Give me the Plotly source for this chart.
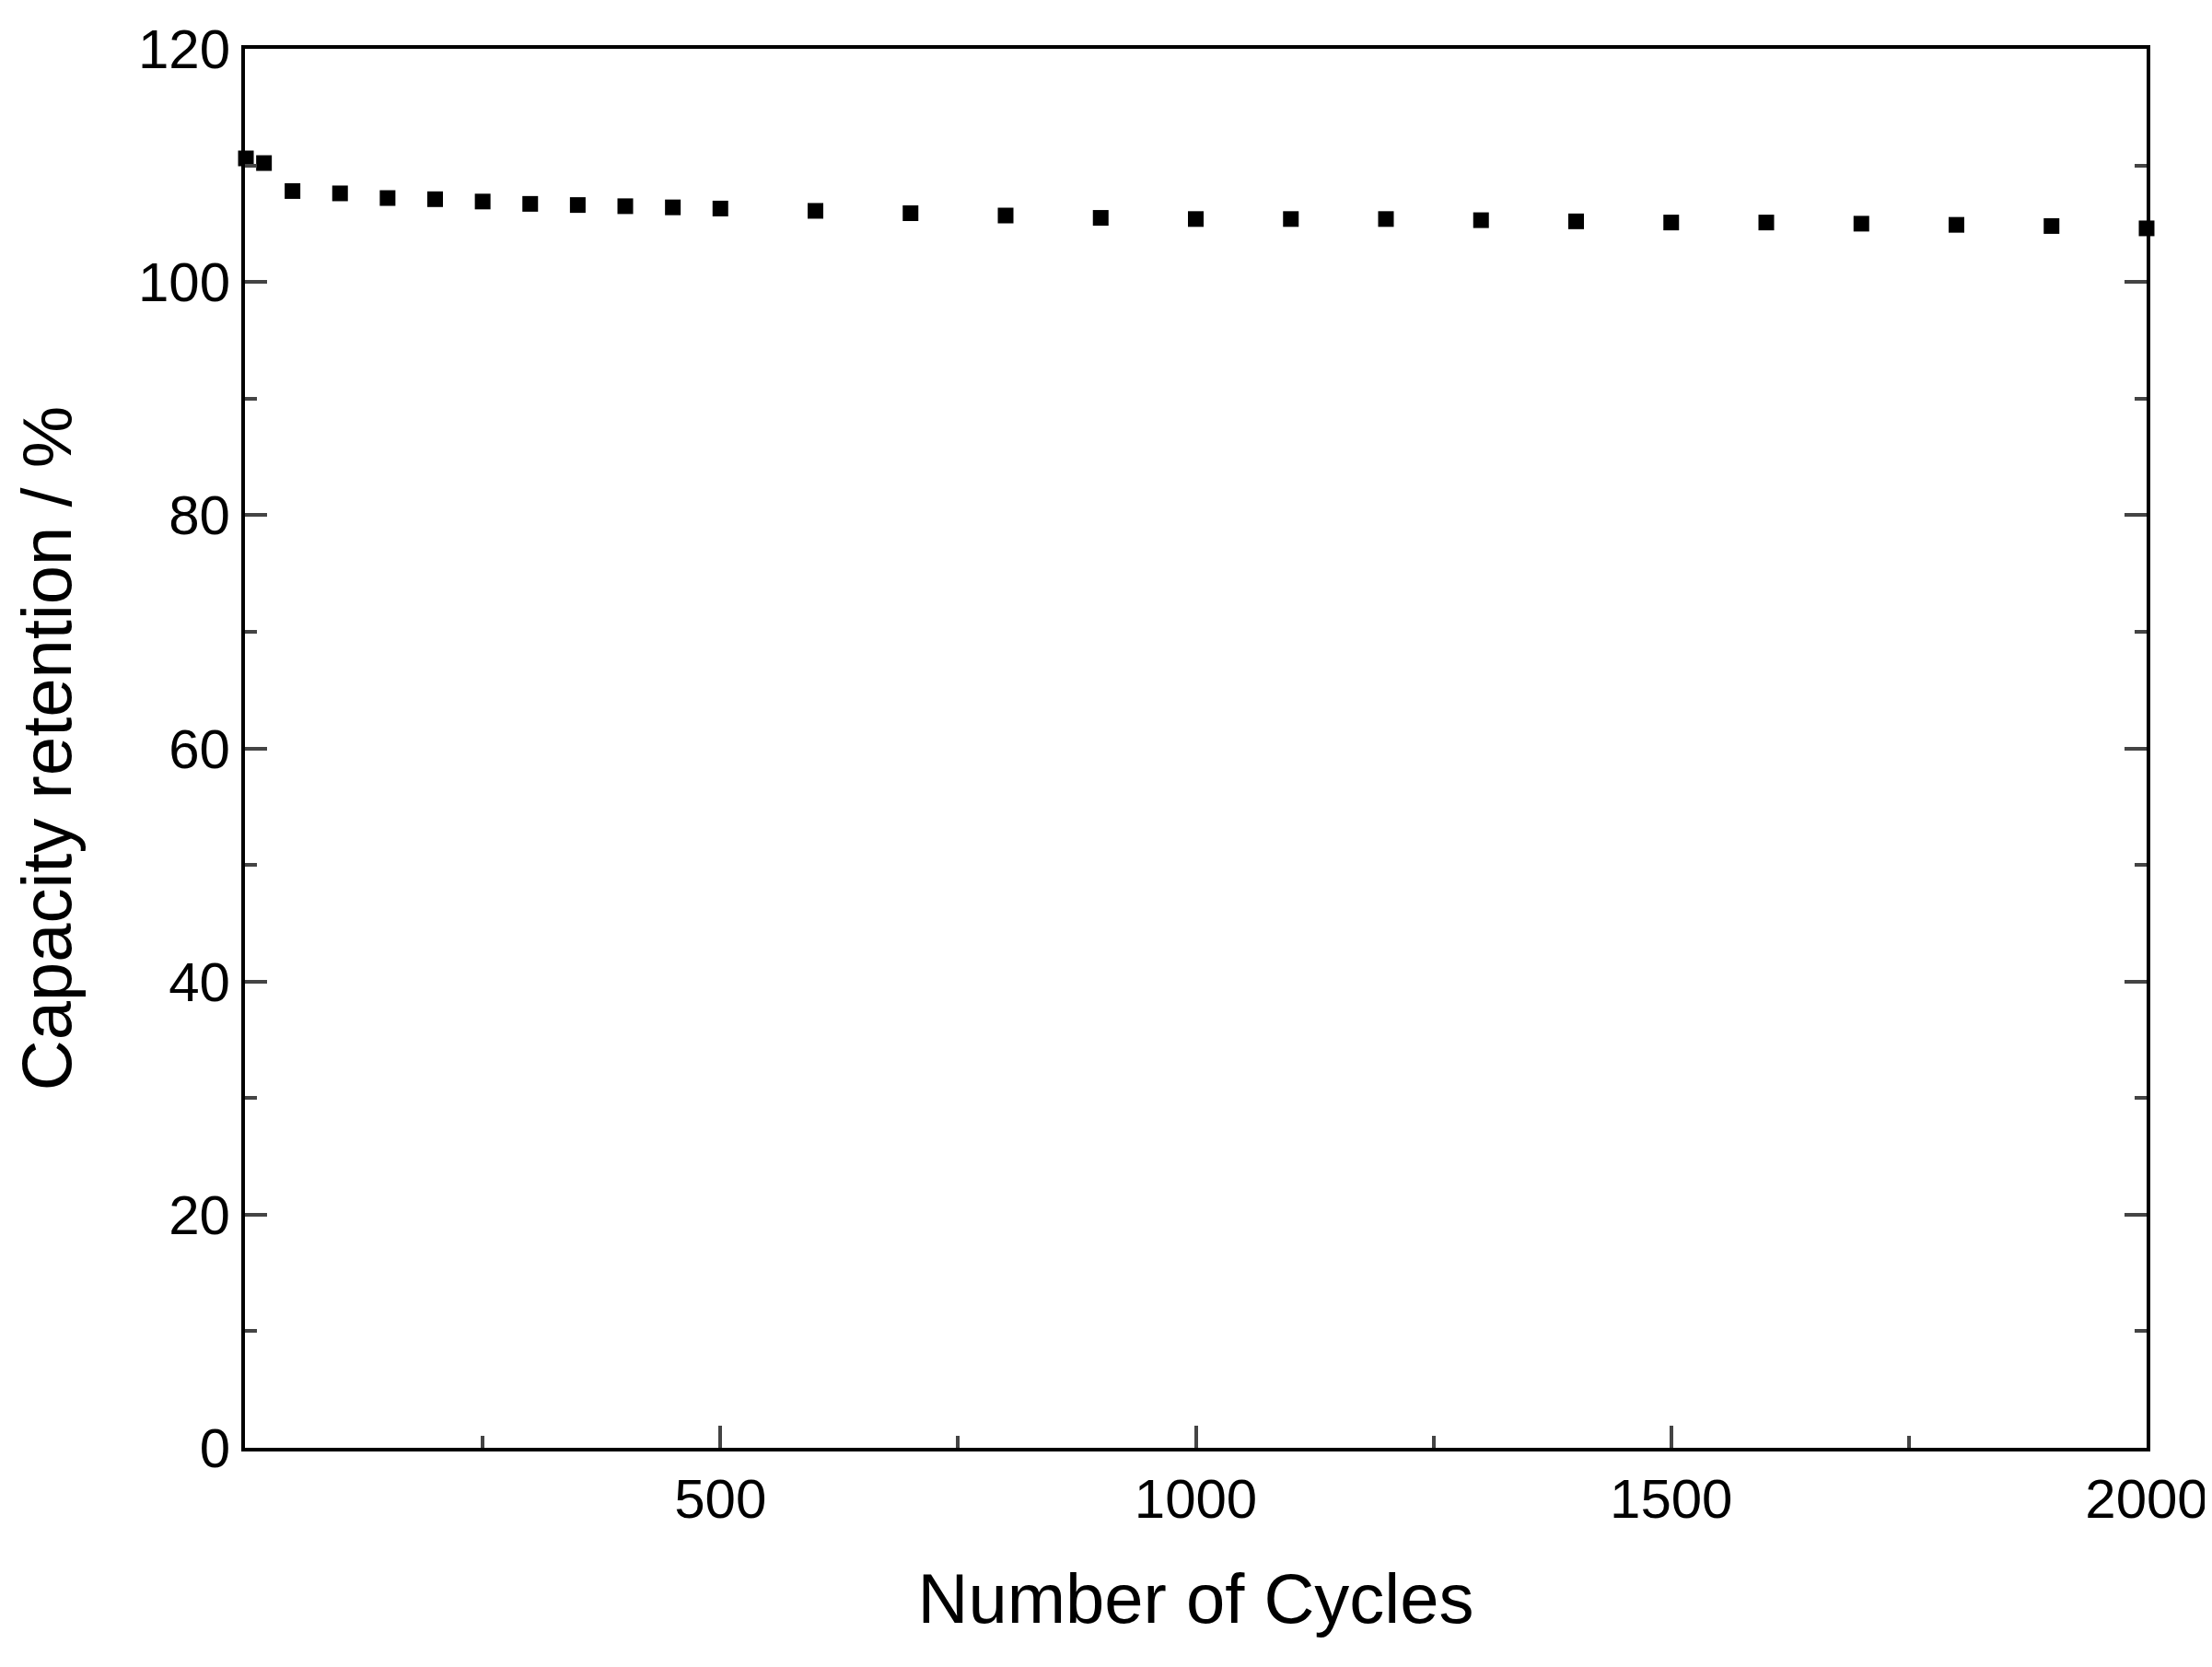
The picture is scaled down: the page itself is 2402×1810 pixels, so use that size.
import plotly.graph_objects as go

cycles = [1, 20, 50, 100, 150, 200, 250, 300, 350, 400, 450, 500, 600, 700, 800, 900,
          1000, 1100, 1200, 1300, 1400, 1500, 1600, 1700, 1800, 1900, 2000]
retention = [110.6, 110.2, 107.8, 107.6, 107.2, 107.1, 106.9, 106.7, 106.6, 106.5, 106.4, 106.3,
             106.1, 105.9, 105.7, 105.5, 105.4, 105.4, 105.4, 105.3, 105.2, 105.1, 105.1, 105.0,
             104.9, 104.8, 104.6]
x_ticks = [500, 1000, 1500, 2000]

fig = go.Figure(go.Scatter(x=cycles, y=retention, mode="markers",
                           marker=dict(symbol="square", size=17, color="black"),
                           cliponaxis=False))
font = dict(family="Liberation Sans, Arial, sans-serif", size=60, color="black")
fig.update_layout(
    width=2402, height=1810, paper_bgcolor="white", plot_bgcolor="white",
    margin=dict(l=258, r=68, t=40, b=246), showlegend=False, font=font)
fig.update_xaxes(range=[0, 2000], tickvals=x_ticks, ticks="inside", ticklen=24, tickwidth=4,
                 showline=True, linewidth=4, linecolor="black", mirror=True, showgrid=False,
                 zeroline=False, minor=dict(tickvals=[250, 750, 1250, 1750], ticks="inside", ticklen=13, tickwidth=4),
                 title=dict(text="Number of Cycles", font=dict(size=76), standoff=50))
fig.update_yaxes(range=[0, 120], dtick=20, ticks="inside", ticklen=24, tickwidth=4,
                 showline=True, linewidth=4, linecolor="black", mirror="ticks", showgrid=False,
                 zeroline=False, minor=dict(dtick=10, ticks="inside", ticklen=13, tickwidth=4),
                 title=dict(text="Capacity retention / %", font=dict(size=76), standoff=50))
fig.write_html("out.html")
